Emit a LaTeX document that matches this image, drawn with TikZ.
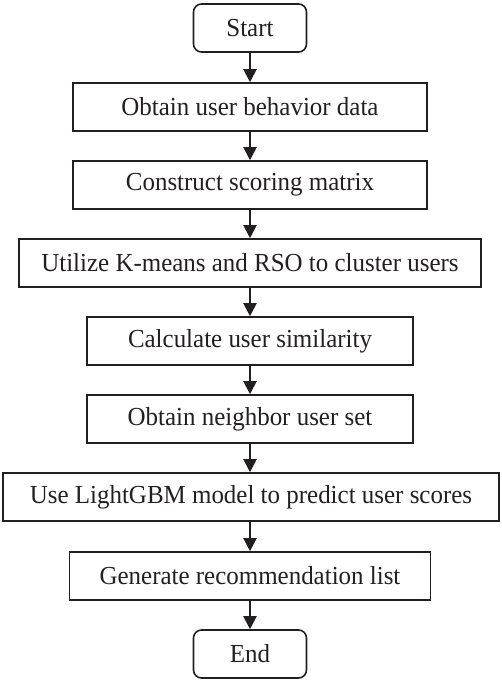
\documentclass[tikz,border=0pt]{standalone}
\usepackage{fontspec}
\setmainfont{Liberation Serif}[FakeStretch=0.96]
\usetikzlibrary{arrows.meta}
\definecolor{ink}{HTML}{231F20}
\begin{document}
\begin{tikzpicture}[x=1pt,y=-1pt,
  box/.style={draw=ink,line width=1.6pt,minimum height=48pt,inner sep=0pt,text=ink,font=\fontsize{26}{30}\selectfont},
  term/.style={box,rounded corners=8pt,minimum width=113pt},
  conn/.style={draw=ink,line width=2pt,-{Triangle[width=13pt,length=13pt]}}]
\useasboundingbox (0,0) rectangle (501,683);
\node[term] (start) at (250,28) {Start};
\node[box,minimum width=354pt] (b1) at (250,107) {Obtain user behavior data};
\node[box,minimum width=354pt] (b2) at (250,185) {Construct scoring matrix};
\node[box,minimum width=462pt] (b3) at (250,263) {Utilize K-means and RSO to cluster users};
\node[box,minimum width=326pt] (b4) at (250,341) {Calculate user similarity};
\node[box,minimum width=326pt] (b5) at (250,419) {Obtain neighbor user set};
\node[box,minimum width=496pt] (b6) at (251,497) {Use LightGBM model to predict user scores};
\node[box,minimum width=361pt] (b7) at (250,576) {Generate recommendation list};
\node[term] (end) at (250,654) {End};
\draw[conn] (start) -- (b1);
\draw[conn] (b1) -- (b2);
\draw[conn] (b2) -- (b3);
\draw[conn] (b3) -- (b4);
\draw[conn] (b4) -- (b5);
\draw[conn] (b5.south) -- (b6.north -| b5.south);
\draw[conn] (b6.south -| b7.north) -- (b7.north);
\draw[conn] (b7) -- (end);
\end{tikzpicture}
\end{document}
